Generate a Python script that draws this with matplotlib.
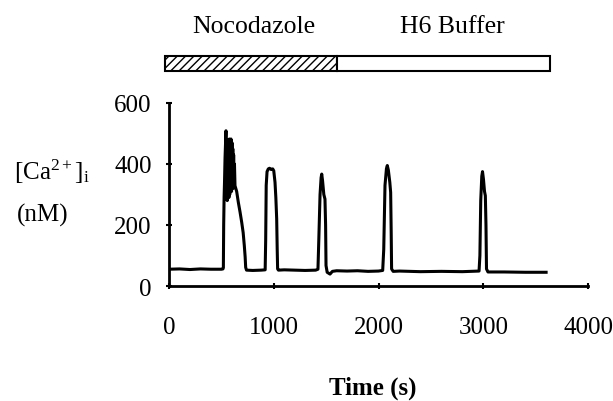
import matplotlib
matplotlib.use("Agg")
import matplotlib.pyplot as plt
from matplotlib.patches import Rectangle

plt.rcParams['font.family'] = ['Liberation Serif', 'DejaVu Serif']
plt.rcParams['mathtext.fontset'] = 'custom'
plt.rcParams['mathtext.rm'] = 'Liberation Serif'
plt.rcParams['mathtext.it'] = 'Liberation Serif:italic'
plt.rcParams['hatch.linewidth'] = 1.0

# Trace: time (s) and [Ca2+]i (nM)
time = [0, 100, 200, 300, 400, 500, 515, 519, 522, 526, 530, 535,
        540, 544, 548, 552, 556, 560, 564, 568, 572, 576, 580, 584, 588,
        592, 597, 601, 605, 609, 613, 617, 621, 625, 630,
        646, 662, 678, 694, 708, 719, 727, 732, 740, 800, 880, 918,
        923, 928, 936, 948, 960, 975, 990, 1000, 1012, 1020, 1028, 1033, 1037,
        1045, 1100, 1200, 1300, 1400, 1422, 1430, 1442, 1452, 1458, 1466,
        1478, 1489, 1495, 1499, 1510, 1537, 1560, 1600, 1700, 1800, 1900,
        2000, 2040, 2050, 2062, 2076, 2084, 2094, 2108, 2116, 2121, 2125,
        2140, 2200, 2400, 2600, 2800, 2960, 2968, 2976, 2986, 2993, 3002,
        3012, 3020, 3026, 3031, 3045, 3200, 3400, 3600]
calcium = [55, 56, 54, 56, 55, 55, 56, 60, 200, 290, 340, 420,
           470, 509, 300, 470, 280, 480, 310, 470, 290, 482, 300, 460, 320,
           482, 310, 470, 330, 450, 320, 430, 330, 400, 329,
           310, 274, 243, 209, 175, 132, 95, 61, 52, 51, 52, 53,
           150, 330, 375, 384, 386, 382, 384, 378, 340, 290, 220, 120, 56,
           52, 53, 52, 51, 52, 55, 150, 300, 355, 367, 345,
           300, 285, 200, 67, 45, 39, 48, 50, 49, 50, 48,
           49, 51, 120, 330, 385, 395, 380, 340, 307, 180, 56,
           48, 49, 47, 48, 47, 49, 100, 280, 360, 375, 350,
           310, 296, 200, 56, 46, 46, 45, 45]

# Treatment bar
phase_labels = ['Nocodazole', 'H6 Buffer']
phase_start = [-40, 1600]
phase_end = [1600, 3640]
phase_hatch = ['////', None]

x_ticks = [0, 1000, 2000, 3000, 4000]
y_ticks = [0, 200, 400, 600]

FS = 18

fig = plt.figure(figsize=(6.13, 4.02), dpi=100)
ax = fig.add_axes([169/613, 1 - 287/402, (588 - 169)/613, (287 - 104)/402])
ax.plot(time, calcium, color='black', lw=2.2, solid_joinstyle='round')
ax.set_xlim(0, 4000)
ax.set_ylim(0, 600)
ax.set_xticks(x_ticks)
ax.set_yticks(y_ticks)
for s in ['top', 'right']:
    ax.spines[s].set_visible(False)
for s in ['left', 'bottom']:
    ax.spines[s].set_linewidth(2)
ax.tick_params(direction='inout', length=5, width=1.5, labelsize=FS)
ax.tick_params(axis='x', pad=19)
ax.tick_params(axis='y', pad=10)
ax.set_xlabel('Time (s)', fontsize=FS, fontweight='bold', va='center')
ax.xaxis.set_label_coords((373 - 169) / 419, (287 - 388) / 183)

for lab, x0, x1, h in zip(phase_labels, phase_start, phase_end, phase_hatch):
    r = Rectangle((x0, 705), x1 - x0, 50, facecolor='white', edgecolor='black',
                  lw=1.5, hatch=h, clip_on=False)
    ax.add_patch(r)
ax.text(811, 852, phase_labels[0], ha='center', va='center', fontsize=FS + 0.5, clip_on=False)
ax.text(2702, 852, phase_labels[1], ha='center', va='center', fontsize=FS + 0.5, clip_on=False)

fig.text(14/613, 1 - 172/402, r'[Ca$^{\mathregular{2+}}$]$_{\mathregular{i}}$',
         fontsize=FS, ha='left', va='center')
fig.text(17/613, 1 - 215/402, '(nM)', fontsize=FS, ha='left', va='center')

fig.savefig('out.png', dpi=100)
